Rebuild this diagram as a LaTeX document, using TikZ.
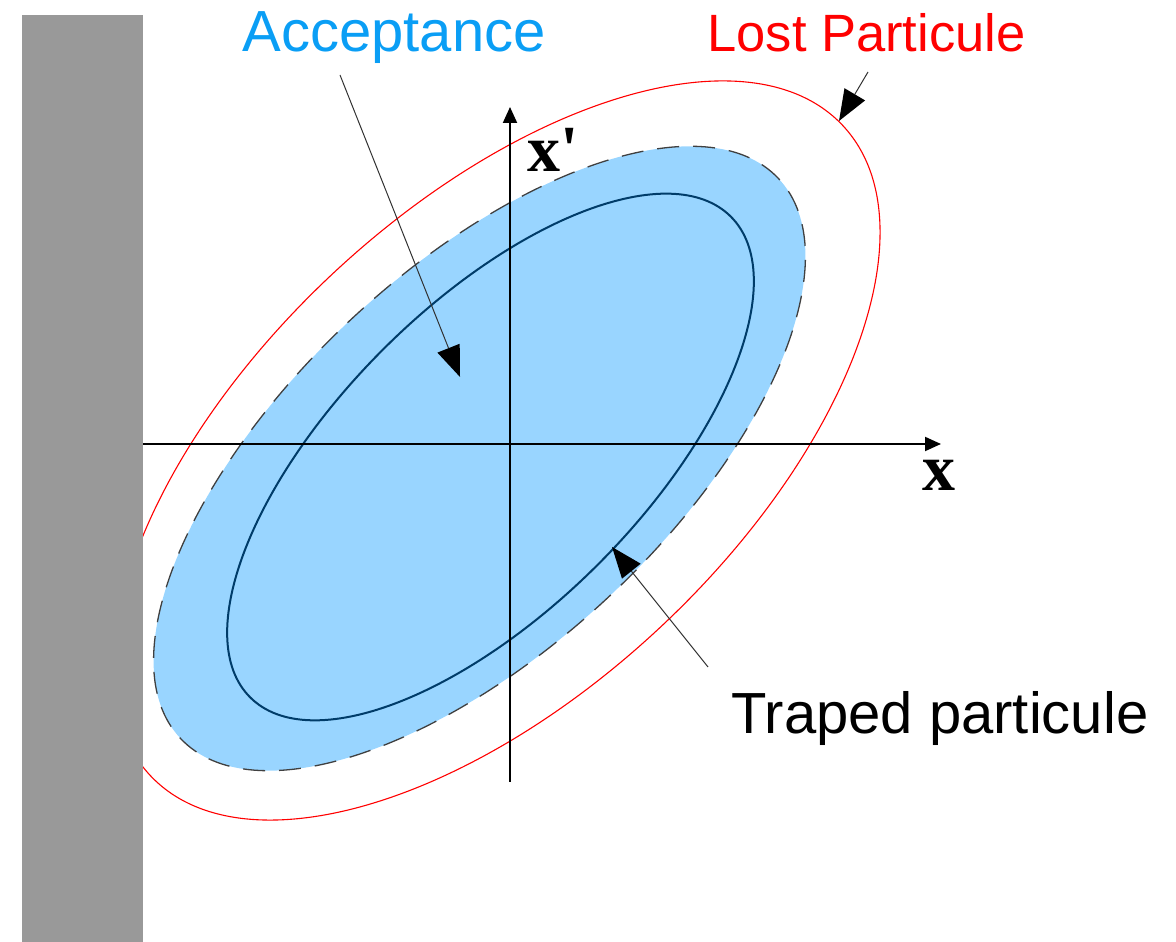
\documentclass[tikz,border=0pt]{standalone}
\usepackage{fontspec}
\setmainfont{Liberation Sans}
\newfontfamily\serifx{Liberation Serif}
\usetikzlibrary{arrows.meta}
\definecolor{accblue}{RGB}{10,158,245}
\definecolor{fillblue}{RGB}{153,213,255}
\definecolor{innerblue}{RGB}{0,60,105}
\definecolor{bargray}{RGB}{153,153,153}
\definecolor{lostred}{RGB}{255,0,0}
\definecolor{pointer}{RGB}{50,50,50}
\tikzset{
  lbl/.style={inner sep=0pt, anchor=base},
  ptr/.style={draw=pointer, line width=1pt, -{Triangle[length=31pt,width=24pt,fill=black,line width=0pt]}},
  axis/.style={draw=black, line width=2pt, -{Triangle[length=16pt,width=14pt]}}
}
\begin{document}
\begin{tikzpicture}[x=1pt,y=1pt]
\useasboundingbox (0,0) rectangle (1176,942);
% acceptance ellipse
\fill[fillblue, rotate around={43.1:(479.5,483.5)}] (479.5,483.5) ellipse [x radius=409.6pt, y radius=189.3pt];
\draw[black!75, line width=1.3pt, dash pattern=on 22pt off 14pt, rotate around={43.1:(479.5,483.5)}] (479.5,483.5) ellipse [x radius=409.6pt, y radius=189.3pt];
% trapped particle ellipse
\draw[innerblue, line width=2pt, rotate around={45:(490.5,485)}] (490.5,485) ellipse [x radius=339.9pt, y radius=152pt];
% lost particle ellipse
\draw[lostred, line width=1.1pt, rotate around={43.2:(496.5,491.5)}] (496.5,491.5) ellipse [x radius=474.9pt, y radius=241pt];
% axes
\coordinate (xs) at (143,498);
\coordinate (xe) at (941,498);
\coordinate (ys) at (510,160);
\coordinate (ye) at (510,835);
\draw[axis] (xs) -- (xe);
\draw[axis] (ys) -- (ye);
\node[lbl] (xlab) at (938.5,451) {\serifx\bfseries\fontsize{66}{70}\selectfont x};
\node[lbl, anchor=base west] (xplab) at (527,770) {\serifx\bfseries\fontsize{66}{70}\selectfont x\char"0027};
% wall
\fill[bargray] (22,0) rectangle (143,927);
% labels
\node[lbl, text=accblue] (acc) at (394,890) {\fontsize{58}{60}\selectfont Acceptance};
\node[lbl, text=lostred] (lost) at (866.5,890) {\fontsize{52.5}{55}\selectfont Lost Particule};
\node[lbl, text=black] (trap) at (940,208) {\fontsize{58}{60}\selectfont Traped particule};
% pointers
\coordinate (accS) at (340,867);
\coordinate (accT) at (460,565);
\coordinate (lostS) at (868,870);
\coordinate (lostT) at (839,821);
\coordinate (trapS) at (708,275);
\coordinate (trapT) at (612,395);
\draw[ptr] (accS) -- (accT);
\draw[ptr] (lostS) -- (lostT);
\draw[ptr] (trapS) -- (trapT);
\end{tikzpicture}
\end{document}
